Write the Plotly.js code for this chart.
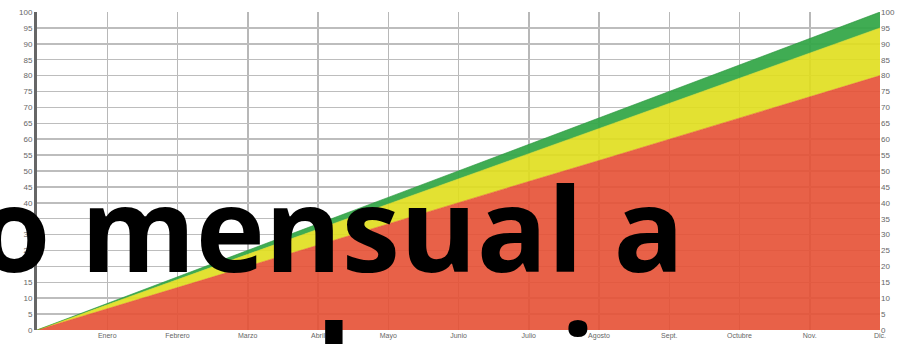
<!DOCTYPE html>
<html>
<head>
<meta charset="utf-8">
<script src="https://cdn.plot.ly/plotly-3.0.1.min.js"></script>
<style>
  html, body { margin: 0; padding: 0; background: #fff; overflow: hidden; }
  #chart { width: 898px; height: 344px; }
</style>
</head>
<body>
<div id="chart"></div>
<script>
// ---- data ----
const monthLabels = ['Enero', 'Febrero', 'Marzo', 'Abril', 'Mayo', 'Junio', 'Julio',
                     'Agosto', 'Sept.', 'Octubre', 'Nov.', 'Dic.'];
// value at the start of the year, then at the end of each month
const rojo     = [0, 6.7, 13.3, 20, 26.7, 33.3, 40, 46.7, 53.3, 60, 66.7, 73.3, 80];
const amarillo = [0, 1.3, 2.5, 3.8, 5, 6.3, 7.5, 8.8, 10, 11.3, 12.5, 13.8, 15];
const verde    = [0, 0.4, 0.8, 1.3, 1.7, 2.1, 2.5, 2.9, 3.3, 3.8, 4.2, 4.6, 5];
const yTicks   = [0, 5, 10, 15, 20, 25, 30, 35, 40, 45, 50, 55, 60, 65, 70, 75, 80, 85, 90, 95, 100];
const titleText = 'o mensual a';

const xIdx = rojo.map((_, i) => i);
const monthIdx = monthLabels.map((_, i) => i + 1);

const band = (y, fill, line) => ({
  x: xIdx, y: y, type: 'scatter', mode: 'lines', stackgroup: 'one',
  line: { color: line, width: 0.6 }, fillcolor: fill, hoverinfo: 'skip'
});

const traces = [
  band(rojo, 'rgba(229,80,52,0.9)', 'rgba(229,80,52,0.9)'),
  band(amarillo, 'rgba(224,222,28,0.9)', 'rgba(224,222,28,0.9)'),
  band(verde, 'rgba(50,166,70,0.93)', 'rgba(36,146,56,1)'),
  { x: [0], y: [0], yaxis: 'y2', type: 'scatter', mode: 'markers',
    marker: { opacity: 0 }, hoverinfo: 'skip', showlegend: false }
];

const tickFont = { family: 'Liberation Sans, Arial, sans-serif', size: 7, color: '#666' };
const yTickFont = { family: 'Liberation Sans, Arial, sans-serif', size: 8, color: '#666' };
const bigFont = { family: 'Open Sans, Lato, sans-serif', size: 117, weight: 700, color: '#000' };

const layout = {
  width: 898, height: 344,
  margin: { l: 37, r: 18, t: 12, b: 14, pad: 0 },
  paper_bgcolor: '#fff', plot_bgcolor: '#fff',
  showlegend: false,
  xaxis: {
    range: [0, 12], tickmode: 'array', tickvals: monthIdx, ticktext: monthLabels,
    showgrid: true, gridcolor: '#b8b8b8', gridwidth: 1.5,
    zeroline: false, showline: false, ticks: '', tickfont: tickFont, fixedrange: true
  },
  yaxis: {
    range: [0, 100], tickmode: 'array', tickvals: yTicks,
    showgrid: true, gridcolor: '#bdbdbd', gridwidth: 1.5,
    zeroline: false, showline: true, linecolor: '#666', linewidth: 3,
    ticks: '', tickfont: yTickFont, fixedrange: true
  },
  yaxis2: {
    overlaying: 'y', side: 'right', range: [0, 100], tickmode: 'array', tickvals: yTicks,
    showgrid: false, zeroline: false, showline: false, ticks: '', tickfont: yTickFont, fixedrange: true
  },
  annotations: [
    { text: titleText, xref: 'paper', yref: 'paper', x: 0.77, y: 0.327,
      xanchor: 'right', yanchor: 'middle', showarrow: false, font: bigFont },
    { text: 'l', xref: 'paper', yref: 'paper', x: (334 - 37) / 843, y: -0.104,
      xanchor: 'center', yanchor: 'middle', showarrow: false, font: bigFont },
    { text: 'i', xref: 'paper', yref: 'paper', x: (578 - 37) / 843, y: -0.104,
      xanchor: 'center', yanchor: 'middle', showarrow: false, font: bigFont }
  ]
};

Plotly.newPlot('chart', traces, layout, { staticPlot: true, displayModeBar: false });
</script>
</body>
</html>
